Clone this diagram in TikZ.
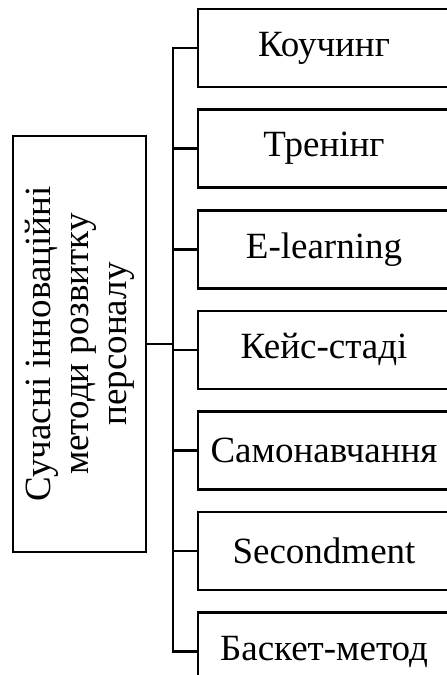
\documentclass[tikz,border=0pt]{standalone}
\usepackage{fontspec}
\setmainfont{Liberation Serif}
\usetikzlibrary{positioning}

\begin{document}
\begin{tikzpicture}[
  x=1pt, y=-1pt,
  node distance=20pt,
  every node/.style={font=\fontsize{37}{38}\selectfont},
  method/.style={rectangle, draw, line width=2.6pt, minimum width=252pt,
                 minimum height=78pt, inner sep=2pt, align=center},
  root/.style={rectangle, draw, line width=2.6pt, rotate=90,
               minimum width=416pt, minimum height=133pt, align=center},
  link/.style={line width=2.6pt},
]
\useasboundingbox (0,0) rectangle (447,675);
\clip (0,0) rectangle (447,675);
\node[root] (main) at (79.5,344)
      {Сучасні інноваційні\\методи розвитку\\персоналу};
\node[method] (kouch) at (324,48) {Коучинг};
\node[method, below=of kouch] (trening) {Тренінг};
\node[method, below=of trening] (elearn) {E-learning};
\node[method, below=of elearn] (keis) {Кейс-стаді};
\node[method, below=of keis] (samo) {Самонавчання};
\node[method, below=of samo] (second) {Secondment};
\node[method, below=of second] (basket) {Баскет-метод};
\coordinate (bus) at (173,0);
% vertical bus
\draw[link] (kouch.west) -- (kouch.west -| bus) -- (basket.west -| bus)
            -- (basket.west);
\draw[link] (main.south) -- (main.south -| bus);
\draw[link] (trening.west) -- (trening.west -| bus);
\draw[link] (elearn.west) -- (elearn.west -| bus);
\draw[link] (keis.west) -- (keis.west -| bus);
\draw[link] (samo.west) -- (samo.west -| bus);
\draw[link] (second.west) -- (second.west -| bus);
\end{tikzpicture}
\end{document}
